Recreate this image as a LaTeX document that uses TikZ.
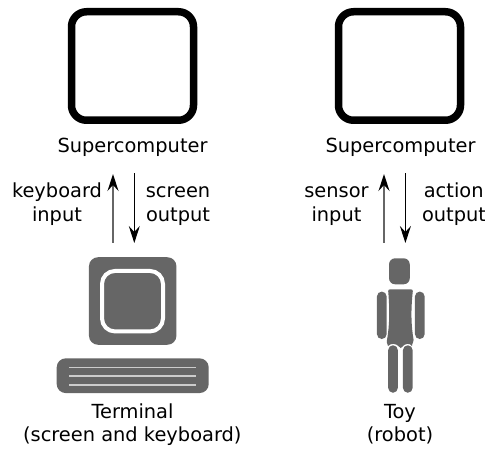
\documentclass[tikz,border=0pt]{standalone}
\usepackage{fontspec}
\setmainfont{DejaVu Sans}
\definecolor{figgray}{HTML}{666666}
\definecolor{linegray}{HTML}{CCCCCC}
\usetikzlibrary{arrows.meta}
\tikzset{
  px/.style={x=1pt,y=-1pt},
  lbl/.style={font=\fontsize{19.4}{24}\selectfont,inner sep=0pt,anchor=base,align=center},
  cpu/.style={draw=black,line width=7.5pt,rounded corners=15pt,fill=white,minimum width=122pt,minimum height=108.5pt,inner sep=0pt},
  solid gray/.style={fill=figgray,draw=none,inner sep=0pt},
  limb/.style={solid gray,rounded corners=4.9pt},
  link/.style={-{Stealth[length=17pt,width=11pt,inset=6pt,color=black]}},
  upl/.style={link,line width=1.5pt,draw=figgray},
  downl/.style={link,line width=1.1pt,draw=black},
}
\begin{document}
\begin{tikzpicture}[px]
\useasboundingbox (0,0) rectangle (485,449);
% supercomputers
\node[cpu] (cpuA) at (132.5,66) {};
\node[cpu] (cpuB) at (399.5,66) {};
\node[lbl] (cpuAl) at (132.5,153) {Supercomputer};
\node[lbl] (cpuBl) at (400.5,153) {Supercomputer};
% arrows
\coordinate (aup0) at (113,243);
\coordinate (aup1) at (113,174);
\coordinate (adn0) at (134.3,173.5);
\coordinate (adn1) at (134.3,243);
\coordinate (bup0) at (384,243);
\coordinate (bup1) at (384,174);
\coordinate (bdn0) at (405.4,173.5);
\coordinate (bdn1) at (405.4,243);
\draw[upl] (aup0) -- (aup1);
\draw[downl] (adn0) -- (adn1);
\draw[upl] (bup0) -- (bup1);
\draw[downl] (bdn0) -- (bdn1);
\node[lbl] (kbd) at (57,198) {keyboard};
\node[lbl] (kbdi) at (57,221.7) {input};
\node[lbl] (scr) at (178,198) {screen};
\node[lbl] (scro) at (178,221.7) {output};
\node[lbl] (sen) at (336.5,198) {sensor};
\node[lbl] (seni) at (336.5,221.7) {input};
\node[lbl] (act) at (453.7,198) {action};
\node[lbl] (acto) at (454,221.7) {output};
% terminal
\node[solid gray,rounded corners=9pt,minimum width=87.5pt,minimum height=87.5pt] (mon) at (132.7,301) {};
\node[draw=white,line width=4pt,rounded corners=13pt,minimum width=61pt,minimum height=60.5pt,inner sep=0pt] (scn) at (132.5,301.2) {};
\node[solid gray,rounded corners=9pt,minimum width=152pt,minimum height=34.7pt] (key) at (132.7,375.7) {};
\coordinate (k1a) at (69.3,367.3); \coordinate (k1b) at (196,367.3);
\coordinate (k2a) at (69.3,376); \coordinate (k2b) at (196,376);
\coordinate (k3a) at (69.3,385); \coordinate (k3b) at (196,385);
\draw[linegray,line width=1.2pt] (k1a) -- (k1b) (k2a) -- (k2b) (k3a) -- (k3b);
\node[lbl] (term) at (132.5,418) {Terminal};
\node[lbl] (terms) at (132.3,441.7) {(screen and keyboard)};
% toy
\node[solid gray,rounded corners=6pt,minimum width=20.7pt,minimum height=26pt] (head) at (399.4,271.3) {};
\fill[figgray] (388.2,291) .. controls (388.5,289.5) and (389,289.3) .. (391,289.3) -- (410,289.3)
  .. controls (412,289.3) and (412.5,289.5) .. (412.8,291)
  .. controls (410.8,310) and (411,325) .. (413.6,340)
  .. controls (414.2,342) and (412,342.5) .. (412,345) -- (412,346)
  .. controls (410,343) and (405,343) .. (402,347)
  .. controls (401.5,348.5) and (400,348.5) .. (399.5,347)
  .. controls (396,343) and (391,343) .. (388,346)
  .. controls (387.5,343) and (386,342) .. (387,340)
  .. controls (389.6,325) and (389.8,310) .. (388.2,291) -- cycle;
\node[limb,minimum width=9.7pt,minimum height=47.5pt] (armL) at (381.8,315.3) {};
\node[limb,minimum width=9.7pt,minimum height=47.5pt] (armR) at (419.8,315.3) {};
\node[limb,minimum width=9.7pt,minimum height=47.5pt] (legL) at (393,369) {};
\node[limb,minimum width=9.7pt,minimum height=47.5pt] (legR) at (407.8,369) {};
\node[lbl] (toy) at (400,418) {Toy};
\node[lbl] (toyr) at (400,441.7) {(robot)};
\end{tikzpicture}
\end{document}
